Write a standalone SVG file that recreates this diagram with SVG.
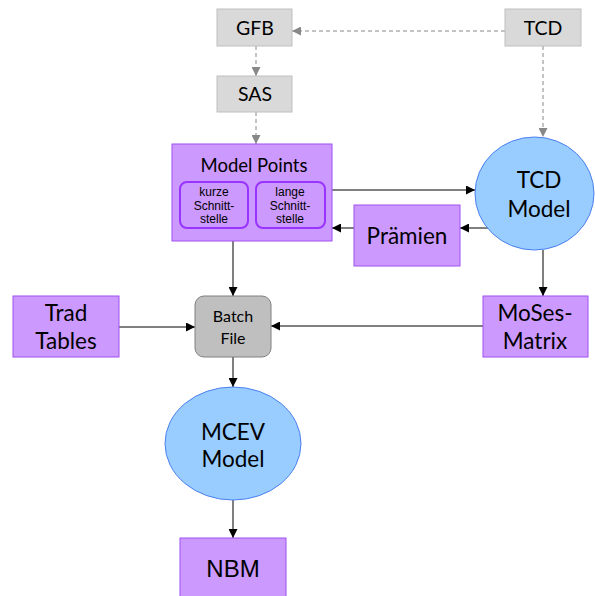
<svg xmlns="http://www.w3.org/2000/svg" width="595" height="596" viewBox="0 0 595 596">
<defs>
<marker id="ab" viewBox="0 0 10 10" refX="10" refY="5" markerWidth="9" markerHeight="9" markerUnits="userSpaceOnUse" orient="auto"><path d="M0,0 L10,5 L0,10 z" fill="#000"/></marker>
<marker id="ag" viewBox="0 0 10 10" refX="10" refY="5" markerWidth="9" markerHeight="9" markerUnits="userSpaceOnUse" orient="auto"><path d="M0,0 L10,5 L0,10 z" fill="#888"/></marker>
</defs>
<style>
.gray{fill:#D9D9D9;stroke:#BFBFBF;stroke-width:1}
.purp{fill:#CC99FF;stroke:#A050F0;stroke-width:1}
.sub{fill:#CC99FF;stroke:#9933FF;stroke-width:2}
.ell{fill:#99CCFF;stroke:#4A80F0;stroke-width:1}
.batch{fill:#BFBFBF;stroke:#808080;stroke-width:1}
.t{font-family:Lato,"Open Sans",sans-serif;text-anchor:middle;fill:#000}
.a{font-family:"Liberation Sans",Arial,sans-serif;text-anchor:middle;fill:#000}
.c{stroke:#000;stroke-width:1;fill:none;marker-end:url(#ab)}
.d{stroke:#888;stroke-width:1;fill:none;stroke-dasharray:4,3;marker-end:url(#ag)}
</style>
<rect width="595" height="596" fill="#fff"/>
<g id="connectors">
<line class="d" x1="505" y1="31" x2="292" y2="31"/>
<line class="d" x1="256" y1="46" x2="256" y2="76"/>
<line class="d" x1="256" y1="112" x2="256" y2="144"/>
<line class="d" x1="543" y1="46" x2="543" y2="137"/>
<line class="c" x1="325" y1="190" x2="475" y2="190"/>
<line class="c" x1="490" y1="228" x2="460" y2="228"/>
<line class="c" x1="354" y1="228" x2="332" y2="228"/>
<line class="c" x1="233" y1="228" x2="233" y2="296"/>
<line class="c" x1="119" y1="327" x2="195" y2="327"/>
<line class="c" x1="483" y1="326" x2="271" y2="326"/>
<line class="c" x1="543" y1="250" x2="543" y2="296"/>
<line class="c" x1="233" y1="357" x2="233" y2="387"/>
<line class="c" x1="233" y1="500" x2="233" y2="538"/>
</g>
<g id="gfb"><rect class="gray" x="217" y="9" width="75" height="37"/><text class="t" x="255" y="34.5" font-size="19.5">GFB</text></g>
<g id="tcd"><rect class="gray" x="505" y="9" width="76" height="37"/><text class="t" x="543" y="34.5" font-size="19.5">TCD</text></g>
<g id="sas"><rect class="gray" x="217" y="76" width="75" height="36"/><text class="t" x="255" y="101" font-size="19.5">SAS</text></g>
<g id="modelpoints"><rect class="purp" x="172" y="144" width="160" height="97"/><text class="t" x="254" y="171.5" font-size="18.5">Model Points</text>
<rect class="sub" x="180" y="182" width="68" height="46" rx="7"/>
<text class="a" x="214" y="196" font-size="12">kurze</text><text class="a" x="214" y="209.5" font-size="12">Schnitt-</text><text class="a" x="214" y="223" font-size="12">stelle</text>
<rect class="sub" x="256" y="182" width="69" height="46" rx="7"/>
<text class="a" x="290" y="196" font-size="12">lange</text><text class="a" x="290" y="209.5" font-size="12">Schnitt-</text><text class="a" x="290" y="223" font-size="12">stelle</text>
</g>
<g id="tcdmodel"><ellipse class="ell" cx="534.5" cy="193.5" rx="59.5" ry="56.5"/><text class="t" x="539" y="188" font-size="22.5">TCD</text><text class="t" x="539" y="216.5" font-size="22.5">Model</text></g>
<g id="praemien"><rect class="purp" x="354" y="205" width="106" height="61"/><text class="t" x="407" y="243.5" font-size="22.5">Prämien</text></g>
<g id="tradtables"><rect class="purp" x="13" y="296" width="106" height="61"/><text class="t" x="66" y="320.5" font-size="22.5">Trad</text><text class="t" x="66" y="349" font-size="22.5">Tables</text></g>
<g id="batchfile"><rect class="batch" x="195" y="296" width="76" height="61" rx="9"/><text class="t" x="233" y="322" font-size="16">Batch</text><text class="t" x="233" y="343.5" font-size="16">File</text></g>
<g id="mosesmatrix"><rect class="purp" x="483" y="296" width="105" height="61"/><text class="t" x="535" y="320.5" font-size="22.5">MoSes-</text><text class="t" x="535" y="348.5" font-size="22.5">Matrix</text></g>
<g id="mcevmodel"><ellipse class="ell" cx="233" cy="443.5" rx="68" ry="56.5"/><text class="t" x="233" y="440" font-size="22.5">MCEV</text><text class="t" x="233" y="466.5" font-size="22.5">Model</text></g>
<g id="nbm"><rect class="purp" x="180" y="538" width="106" height="62"/><text class="a" x="233" y="576.5" font-size="24">NBM</text></g>
</svg>
